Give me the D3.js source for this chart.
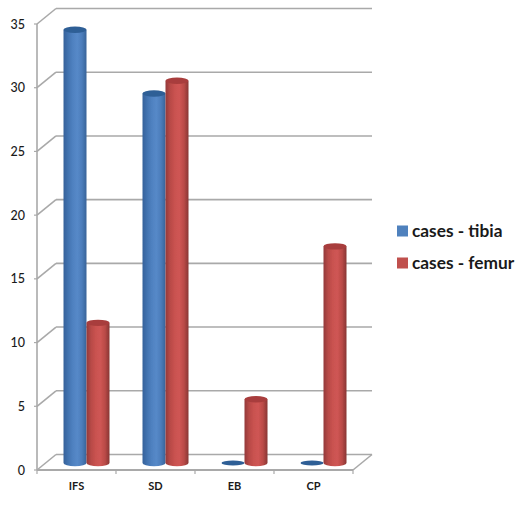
<!DOCTYPE html>
<html><head><meta charset="utf-8">
<script src="https://cdn.jsdelivr.net/npm/d3@7"></script>
<style>html,body{margin:0;background:#fff}svg{display:block}text{font-family:Lato,"Open Sans",sans-serif;fill:#1a1a1a}</style>
</head><body><div id="c"></div>
<script>
const categories = ["IFS","SD","EB","CP"];
const tibia = [34,29,0,0];
const femur = [11,30,5,17];
const seriesNames = ["cases - tibia","cases - femur"];
const yTicks = [0,5,10,15,20,25,30,35];

const W=529,H=510, dx=19, dy=-15.5;
const svg=d3.select("#c").append("svg").attr("width",W).attr("height",H);
const y=d3.scaleLinear().domain([0,35]).range([470,24]);
const x=d3.scaleBand().domain(categories).range([37,353]);
const inner=d3.scaleBand().domain([0,1]).range([0,46]);
const barDy=-7, rx=11.5, ry=3.2;
const defs=svg.append("defs");
defs.append("filter").attr("id","soft").append("feGaussianBlur").attr("stdDeviation",0.5);
const colors=[
 {id:"b",stops:["#35619a","#4273b0","#4f81c0","#5689c8","#4c7dbb","#386399"],top:"#2f5f96"},
 {id:"r",stops:["#93393a","#b84a47","#c95250","#cf5654","#bb4b48","#883533"],top:"#a83e3c"}
];
colors.forEach(c=>{
 const g=defs.append("linearGradient").attr("id",c.id).attr("x1",0).attr("x2",1).attr("y1",0).attr("y2",0);
 c.stops.forEach((s,i)=>g.append("stop").attr("offset",i/(c.stops.length-1)).attr("stop-color",s));
});
const root=svg.append("g").attr("filter","url(#soft)");
const grey="#a9a9a9";
const line=(x1,y1,x2,y2,w=1.6,col=grey)=>root.append("line").attr("x1",x1).attr("y1",y1).attr("x2",x2).attr("y2",y2).attr("stroke",col).attr("stroke-width",w);
const [xa,xb]=x.range();
yTicks.forEach(t=>{
 const p=y(t);
 line(xa,p,xa+dx,p+dy);
 line(xa+dx,p+dy,xb+dx,p+dy);
 line(xa-3,p,xa,p,1.2);
});
line(xa,y(35),xa,y(0));
line(xa,y(0),xb,y(0),2);
line(xb,y(0),xb+dx,y(0)+dy);
[...categories.map(c=>x(c)),xb].forEach(p=>line(p,y(0),p,y(0)+4,1.2));

function bar(cx,val,c){
 const base=y(0)+barDy, top=y(val)+barDy;
 const g=root.append("g");
 if(val>0){
  g.append("path").attr("d",`M${cx-rx},${top}L${cx-rx},${base}A${rx},${ry} 0 0 0 ${cx+rx},${base}L${cx+rx},${top}Z`).attr("fill",`url(#${c.id})`);
 }
 g.append("ellipse").attr("cx",cx).attr("cy",top).attr("rx",rx).attr("ry",val>0?ry:2.6).attr("fill",c.top);
}
categories.forEach((cat,i)=>{
 const x0=x(cat)+26.5;
 bar(x0+inner(0)+11.5,tibia[i],colors[0]);
 bar(x0+inner(1)+11.5,femur[i],colors[1]);
});
yTicks.forEach(t=>svg.append("text").attr("x",25).attr("y",y(t)+4.5).attr("text-anchor","end").attr("font-size",12.5).attr("font-weight",500).text(t));
categories.forEach(c=>svg.append("text").attr("x",x(c)+39.5).attr("y",490).attr("text-anchor","middle").attr("font-size",11).attr("font-weight",700).text(c));
seriesNames.forEach((s,i)=>{
 const ly=[231,263][i];
 svg.append("rect").attr("x",397).attr("y",ly-5.5).attr("width",11).attr("height",11).attr("fill",i?"#c0504d":"#4f81bd");
 svg.append("text").attr("x",412).attr("y",ly+5.5).attr("font-size",17.3).attr("font-weight",700).text(s);
});
</script></body></html>
